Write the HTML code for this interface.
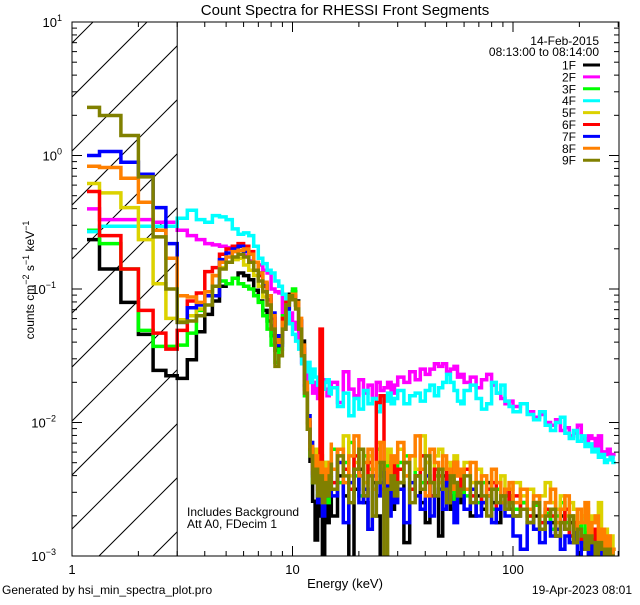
<!DOCTYPE html>
<html><head><meta charset="utf-8"><style>
html,body{margin:0;padding:0;background:#fff;}
svg text{font-family:"Liberation Sans",sans-serif;fill:#000;}
</style></head><body>
<svg id="chart" width="640" height="600" viewBox="0 0 640 600" xmlns="http://www.w3.org/2000/svg">
<rect width="640" height="600" fill="#fff"/>
<defs><clipPath id="plotclip"><rect x="72" y="22" width="547" height="534"/></clipPath>
<clipPath id="hatchclip"><rect x="72" y="22" width="105" height="534"/></clipPath></defs>
<text x="345" y="15" font-size="15" text-anchor="middle">Count Spectra for RHESSI Front Segments</text>
<g id="hatch" clip-path="url(#hatchclip)"></g>
<g id="series" clip-path="url(#plotclip)"></g>
<g id="axes"></g>
<text x="187" y="516" font-size="12">Includes Background</text>
<text x="187" y="528" font-size="12">Att A0, FDecim 1</text>
<text x="599" y="45" font-size="12" text-anchor="end">14-Feb-2015</text>
<text x="599" y="56" font-size="12" text-anchor="end">08:13:00 to 08:14:00</text>
<g id="legend"></g>
<text x="345" y="588" font-size="13" text-anchor="middle">Energy (keV)</text>
<text transform="translate(34,280) rotate(-90)" font-size="12" text-anchor="middle">counts cm<tspan baseline-shift="super" font-size="9">−2</tspan> s<tspan baseline-shift="super" font-size="9">−1</tspan> keV<tspan baseline-shift="super" font-size="9">−1</tspan></text>
<text x="2" y="594" font-size="12">Generated by hsi_min_spectra_plot.pro</text>
<text x="632" y="594" font-size="12" text-anchor="end">19-Apr-2023 08:01</text>
</svg>
<script>
// Energy bin segments (keV)
const segStart=[1.3333,15,30,60,100];
const segEnd=[15,30,60,100,300];
const segStep=[1/3,1,2,4,8];
const firstEdge=1.17;
const seriesNames=["1F","2F","3F","4F","5F","6F","7F","8F","9F"];
const seriesColors=["#000000","#ff00ff","#00ff00","#00ffff","#dcd200","#ff0000","#0000ff","#ff8000","#808000"];
const xTickLabels=["1","10","100"];
const yTickExps=[1,0,-1,-2,-3];
// log10(counts cm^-2 s^-1 keV^-1), bins < 15 keV
const lo1F=[-0.63,-0.85,-1.10,-1.34,-1.61,-1.65,-1.67,-1.53,-1.32,-1.19,-1.09,-0.98,-0.96,-0.92,-0.88,-0.90,-0.93,-1.01,-1.09,-1.16,-1.24,-1.35,-1.46,-1.40,-1.25,-1.14,-1.04,-1.02,-1.09,-1.24,-1.39,-1.69,-2.00,-2.29,-2.59,-2.88,-2.55,-2.70,-3.10,-2.60,-2.75,-2.50];
const lo2F=[-0.40,-0.48,-0.48,-0.48,-0.50,-0.50,-0.56,-0.60,-0.63,-0.66,-0.67,-0.68,-0.69,-0.71,-0.74,-0.75,-0.79,-0.80,-0.82,-0.86,-0.88,-1.00,-1.02,-1.03,-1.20,-1.22,-1.18,-1.25,-1.30,-1.40,-1.55,-1.80,-1.62,-1.70,-1.78,-1.70,-1.82,-1.72,-1.68,-1.75,-1.80,-1.70];
const lo3F=[-0.56,-0.66,-0.85,-1.31,-1.43,-1.43,-1.42,-1.33,-1.16,-1.05,-0.98,-0.94,-0.96,-0.92,-0.96,-0.98,-1.00,-1.05,-1.10,-1.20,-1.30,-1.42,-1.55,-1.45,-1.20,-1.10,-1.05,-1.00,-1.10,-1.30,-1.50,-1.80,-2.00,-2.25,-2.45,-2.30,-2.55,-2.35,-2.50,-2.30,-2.60,-2.40];
const lo4F=[-0.57,-0.53,-0.53,-0.53,-0.53,-0.53,-0.47,-0.41,-0.48,-0.50,-0.45,-0.46,-0.48,-0.55,-0.59,-0.58,-0.60,-0.68,-0.77,-0.81,-0.86,-0.88,-0.94,-0.98,-1.04,-1.11,-1.26,-1.34,-1.39,-1.45,-1.56,-1.62,-1.55,-1.70,-1.60,-1.66,-1.72,-1.64,-1.75,-1.70,-1.68,-1.78];
const lo5F=[-0.21,-0.28,-0.39,-0.63,-0.96,-1.22,-1.23,-1.20,-1.15,-1.05,-0.90,-0.84,-0.80,-0.78,-0.77,-0.82,-0.86,-0.90,-0.98,-1.06,-1.12,-1.25,-1.40,-1.38,-1.22,-1.10,-1.05,-1.04,-1.12,-1.28,-1.48,-1.72,-1.95,-2.15,-2.30,-2.20,-2.40,-2.25,-2.45,-2.30,-2.40,-2.30];
const lo6F=[-0.27,-0.60,-0.85,-1.16,-1.33,-1.45,-1.31,-1.09,-1.03,-0.87,-0.84,-0.74,-0.70,-0.68,-0.66,-0.68,-0.72,-0.80,-0.90,-0.98,-1.08,-1.22,-1.40,-1.35,-1.22,-1.10,-1.06,-1.05,-1.12,-1.28,-1.48,-1.75,-2.00,-2.20,-2.38,-2.30,-2.50,-1.30,-2.45,-2.35,-2.50,-2.40];
const lo7F=[0.00,0.03,-0.05,-0.14,-0.39,-0.66,-1.25,-1.14,-1.12,-1.05,-1.05,-0.78,-0.73,-0.70,-0.68,-0.72,-0.74,-0.80,-0.88,-0.96,-1.05,-1.18,-1.35,-1.42,-1.30,-1.15,-1.08,-1.06,-1.12,-1.25,-1.45,-1.72,-1.95,-2.15,-2.40,-2.30,-2.60,-2.40,-2.70,-2.35,-2.55,-2.45];
const lo8F=[-0.08,-0.09,-0.17,-0.35,-0.56,-0.77,-1.05,-1.06,-1.10,-1.02,-0.90,-0.80,-0.76,-0.72,-0.71,-0.70,-0.74,-0.80,-0.88,-0.95,-1.05,-1.20,-1.38,-1.40,-1.25,-1.12,-1.06,-1.04,-1.10,-1.22,-1.42,-1.70,-1.98,-2.18,-2.35,-2.25,-2.45,-2.30,-2.55,-2.35,-2.45,-2.30];
const lo9F=[0.36,0.30,0.15,-0.16,-0.61,-1.00,-1.25,-1.24,-1.20,-1.12,-0.98,-0.85,-0.80,-0.76,-0.74,-0.76,-0.80,-0.86,-0.94,-1.02,-1.12,-1.30,-1.58,-1.50,-1.30,-1.12,-1.05,-1.08,-1.15,-1.30,-1.50,-1.78,-2.05,-2.25,-2.45,-2.35,-2.55,-2.40,-2.60,-2.45,-2.55,-2.40];
// bins >= 15 keV
const hi1F=[-2.45,-2.70,-2.40,-2.55,-3.05,-2.50,-2.35,-2.60,-2.80,-2.45,-2.70,-3.10,-2.50,-2.40,-2.65,-2.55,-2.45,-2.90,-2.50,-2.40,-2.60,-2.75,-2.45,-2.55,-2.85,-2.40,-2.50,-2.65,-2.55,-2.45,-2.60,-2.50,-2.70,-2.55,-2.65,-2.45,-2.60,-2.75,-2.55,-2.50,-2.65,-2.70,-2.60,-2.75,-2.70,-2.80,-2.65,-2.75,-2.85,-2.70,-2.80,-2.75,-2.90,-2.80,-2.95,-2.85,-3.00,-2.90,-2.95,-3.05,-2.90,-3.00,-3.10,-2.95,-3.05];
const hi2F=[-1.78,-1.70,-1.85,-1.62,-1.75,-1.80,-1.68,-1.78,-1.72,-1.82,-1.70,-1.76,-1.74,-1.70,-1.78,-1.72,-1.66,-1.70,-1.62,-1.68,-1.60,-1.64,-1.60,-1.56,-1.58,-1.56,-1.62,-1.60,-1.58,-1.66,-1.64,-1.70,-1.66,-1.74,-1.68,-1.64,-1.72,-1.78,-1.82,-1.86,-1.84,-1.88,-1.86,-1.92,-1.96,-1.94,-2.00,-2.02,-1.98,-2.06,-2.04,-2.10,-2.08,-2.02,-2.12,-2.14,-2.10,-2.12,-2.20,-2.10,-2.22,-2.24,-2.20,-2.26,-2.24];
const hi3F=[-2.35,-2.20,-2.45,-2.30,-2.15,-2.40,-2.55,-2.25,-2.35,-2.50,-2.20,-2.40,-2.30,-2.45,-2.35,-2.40,-2.30,-2.25,-2.50,-2.35,-2.45,-2.30,-2.55,-2.40,-2.35,-2.50,-2.45,-2.40,-2.60,-2.50,-2.45,-2.55,-2.50,-2.60,-2.45,-2.55,-2.65,-2.50,-2.60,-2.55,-2.55,-2.65,-2.60,-2.70,-2.62,-2.75,-2.68,-2.80,-2.70,-2.60,-2.75,-2.70,-2.85,-2.78,-2.70,-2.90,-2.80,-2.95,-2.85,-2.90,-3.00,-2.90,-2.95,-3.05,-2.95];
const hi4F=[-1.80,-1.74,-1.88,-1.78,-1.95,-1.82,-1.90,-1.76,-1.86,-1.82,-1.92,-1.80,-1.84,-1.78,-1.86,-1.82,-1.76,-1.86,-1.80,-1.78,-1.84,-1.76,-1.72,-1.80,-1.74,-1.70,-1.64,-1.70,-1.76,-1.84,-1.86,-1.76,-1.72,-1.82,-1.90,-1.86,-1.70,-1.78,-1.72,-1.84,-1.88,-1.92,-1.86,-1.94,-1.98,-1.92,-2.02,-2.06,-2.00,-1.96,-2.08,-2.12,-2.06,-2.14,-2.10,-2.18,-2.16,-2.22,-2.20,-2.26,-2.24,-2.30,-2.28,-2.26,-2.30];
const hi5F=[-2.20,-2.35,-2.25,-2.10,-2.40,-2.30,-2.20,-2.45,-2.25,-2.35,-2.15,-2.40,-2.30,-2.20,-2.35,-2.30,-2.20,-2.40,-2.25,-2.35,-2.10,-2.30,-2.45,-2.25,-2.20,-2.35,-2.30,-2.40,-2.25,-2.35,-2.40,-2.30,-2.45,-2.35,-2.40,-2.50,-2.35,-2.45,-2.40,-2.50,-2.50,-2.45,-2.55,-2.50,-2.60,-2.55,-2.45,-2.60,-2.65,-2.55,-2.70,-2.60,-2.65,-2.75,-2.70,-2.65,-2.80,-2.70,-2.75,-2.60,-2.85,-2.80,-2.90,-2.85,-2.95];
const hi6F=[-2.30,-2.45,-2.20,-2.35,-2.50,-2.25,-2.40,-2.55,-2.30,-2.40,-1.85,-1.80,-2.50,-2.40,-2.30,-2.45,-2.35,-2.30,-2.50,-2.40,-2.25,-2.45,-2.55,-2.35,-2.40,-2.50,-2.35,-2.45,-2.30,-2.40,-2.50,-2.35,-2.55,-2.45,-2.60,-2.50,-2.45,-2.65,-2.55,-2.50,-2.60,-2.55,-2.65,-2.70,-2.60,-2.75,-2.65,-2.70,-2.80,-2.75,-2.65,-2.85,-2.75,-2.80,-2.90,-2.85,-2.95,-2.80,-2.90,-3.00,-2.95,-2.90,-3.05,-3.00,-3.05];
const hi7F=[-2.40,-2.55,-2.30,-2.75,-2.45,-2.35,-2.60,-2.50,-2.80,-2.40,-2.55,-2.45,-2.35,-2.70,-2.50,-2.60,-2.50,-2.75,-2.45,-2.55,-2.65,-2.40,-2.70,-2.55,-2.50,-2.65,-2.45,-2.60,-2.75,-2.55,-2.55,-2.65,-2.50,-2.70,-2.60,-2.55,-2.75,-2.65,-2.60,-2.70,-2.70,-2.85,-2.95,-2.75,-2.80,-2.90,-2.75,-2.85,-2.80,-2.95,-2.85,-2.90,-2.80,-3.00,-2.90,-2.95,-3.05,-2.90,-3.00,-3.10,-2.95,-3.05,-3.10,-3.00,-3.10];
const hi8F=[-2.15,-2.35,-2.20,-2.45,-2.25,-2.10,-2.40,-2.30,-2.20,-2.50,-2.30,-2.15,-2.35,-2.45,-2.25,-2.30,-2.15,-2.40,-2.25,-2.10,-2.35,-2.55,-2.20,-2.30,-2.45,-2.25,-2.35,-2.50,-2.30,-2.40,-2.35,-2.50,-2.30,-2.45,-2.40,-2.55,-2.35,-2.45,-2.60,-2.50,-2.45,-2.60,-2.50,-2.65,-2.55,-2.70,-2.60,-2.50,-2.75,-2.65,-2.55,-2.70,-2.80,-2.65,-2.75,-2.60,-2.85,-2.75,-2.70,-2.90,-2.80,-2.95,-2.85,-3.00,-2.95];
const hi9F=[-2.30,-2.50,-2.25,-2.40,-2.60,-2.35,-2.20,-2.55,-2.40,-2.70,-2.45,-2.30,-3.05,-2.50,-2.40,-2.55,-2.45,-2.30,-2.60,-2.40,-2.50,-2.25,-2.45,-2.55,-2.35,-2.50,-2.60,-2.40,-2.45,-2.55,-2.50,-2.40,-2.60,-2.45,-2.55,-2.70,-2.50,-2.60,-2.55,-2.65,-2.60,-2.70,-2.65,-2.75,-2.60,-2.80,-2.70,-2.65,-2.85,-2.75,-2.80,-2.70,-2.90,-2.80,-2.85,-2.95,-2.85,-2.90,-3.00,-2.90,-2.95,-3.05,-2.95,-3.00,-3.05];
const loSeries=[lo1F,lo2F,lo3F,lo4F,lo5F,lo6F,lo7F,lo8F,lo9F];
const hiSeries=[hi1F,hi2F,hi3F,hi4F,hi5F,hi6F,hi7F,hi8F,hi9F];

const NS="http://www.w3.org/2000/svg";
const X0=72,X1=619,Y0=22,Y1=556;
const xDec=220.5;
function xs(e){return X0+Math.log10(e)*xDec;}
const yDec=(Y1-Y0)/4;
function ys(l){return Y1-(l+3)*yDec;}
function mk(tag,attrs,parent){const el=document.createElementNS(NS,tag);for(const k in attrs)el.setAttribute(k,attrs[k]);parent.appendChild(el);return el;}

// bin edges
const edges=[firstEdge];
for(let s=0;s<segStart.length;s++){
  const n=Math.round((segEnd[s]-segStart[s])/segStep[s]);
  for(let i=0;i<=n;i++){const e=segStart[s]+i*segStep[s];if(e>edges[edges.length-1]+1e-6)edges.push(e);}
}

// hatch
const hatch=document.getElementById('hatch');
for(let k=-12;k<3;k++){
  const bx=99+54*k;
  const ln=mk('line',{x1:bx,y1:Y1,x2:bx+600,y2:Y1-600,stroke:'#000','stroke-width':1},hatch);
  
  
}
const vline=mk('line',{x1:xs(3),y1:Y0,x2:xs(3),y2:Y1,stroke:'#000','stroke-width':1},document.getElementById('axes'));



// series
const sg=document.getElementById('series');
for(let s=0;s<9;s++){
  const vals=loSeries[s].concat(hiSeries[s]);
  let d='';
  for(let i=0;i<vals.length&&i+1<edges.length;i++){
    const xa=xs(edges[i]),xb=xs(edges[i+1]),y=ys(vals[i]);
    d+=(i===0?'M':'L')+xa.toFixed(1)+','+y.toFixed(1)+'L'+xb.toFixed(1)+','+y.toFixed(1);
  }
  const p=mk('path',{d:d,fill:'none',stroke:seriesColors[s],'stroke-width':3.5,'stroke-linejoin':'miter'},sg);
  
  
}

// axes
const ax=document.getElementById('axes');
const frame=mk('rect',{x:X0,y:Y0,width:X1-X0,height:Y1-Y0,fill:'none',stroke:'#000','stroke-width':1},ax);


for(let dec=0;dec<3;dec++){
  for(let m=1;m<10;m++){
    const e=Math.pow(10,dec)*m; if(e>300)break;
    const x=xs(e),len=m===1?10:5;
    const t1=mk('line',{x1:x,y1:Y1,x2:x,y2:Y1-len,stroke:'#000'},ax);
    
    
    const t2=mk('line',{x1:x,y1:Y0,x2:x,y2:Y0+len,stroke:'#000'},ax);
    
    
  }
  const lb=mk('text',{x:xs(Math.pow(10,dec)),y:574,'font-size':13,'text-anchor':'middle'},ax);
  lb.textContent=xTickLabels[dec];
  
  
}
for(let dec=-3;dec<1;dec++){
  for(let m=1;m<10;m++){
    const l=dec+Math.log10(m),y=ys(l),len=m===1?10:5;
    const t1=mk('line',{x1:X0,y1:y,x2:X0+len,y2:y,stroke:'#000'},ax);
    
    
    const t2=mk('line',{x1:X1,y1:y,x2:X1-len,y2:y,stroke:'#000'},ax);
    
    
  }
}
yTickExps.forEach(function(ex){
  const y=ys(ex);
  const t=mk('text',{x:ex<0?56:62,y:y+5,'font-size':13,'text-anchor':'end'},ax);
  
  
  const b=document.createElementNS(NS,'tspan');b.textContent='10';t.appendChild(b);
  const sp=document.createElementNS(NS,'tspan');sp.setAttribute('dy','-6');sp.setAttribute('font-size','9');
  sp.textContent=ex<0?('−'+(-ex)):String(ex);t.appendChild(sp);
});

// legend
const lg=document.getElementById('legend');
for(let s=0;s<9;s++){
  const y=65+s*11.9;
  const t=mk('text',{x:576,y:y+4.5,'font-size':12,'text-anchor':'end'},lg);
  t.textContent=seriesNames[s];
  
  
  const l=mk('line',{x1:583,y1:y,x2:600,y2:y,stroke:seriesColors[s],'stroke-width':3},lg);
  
  
}
</script>
</body></html>
